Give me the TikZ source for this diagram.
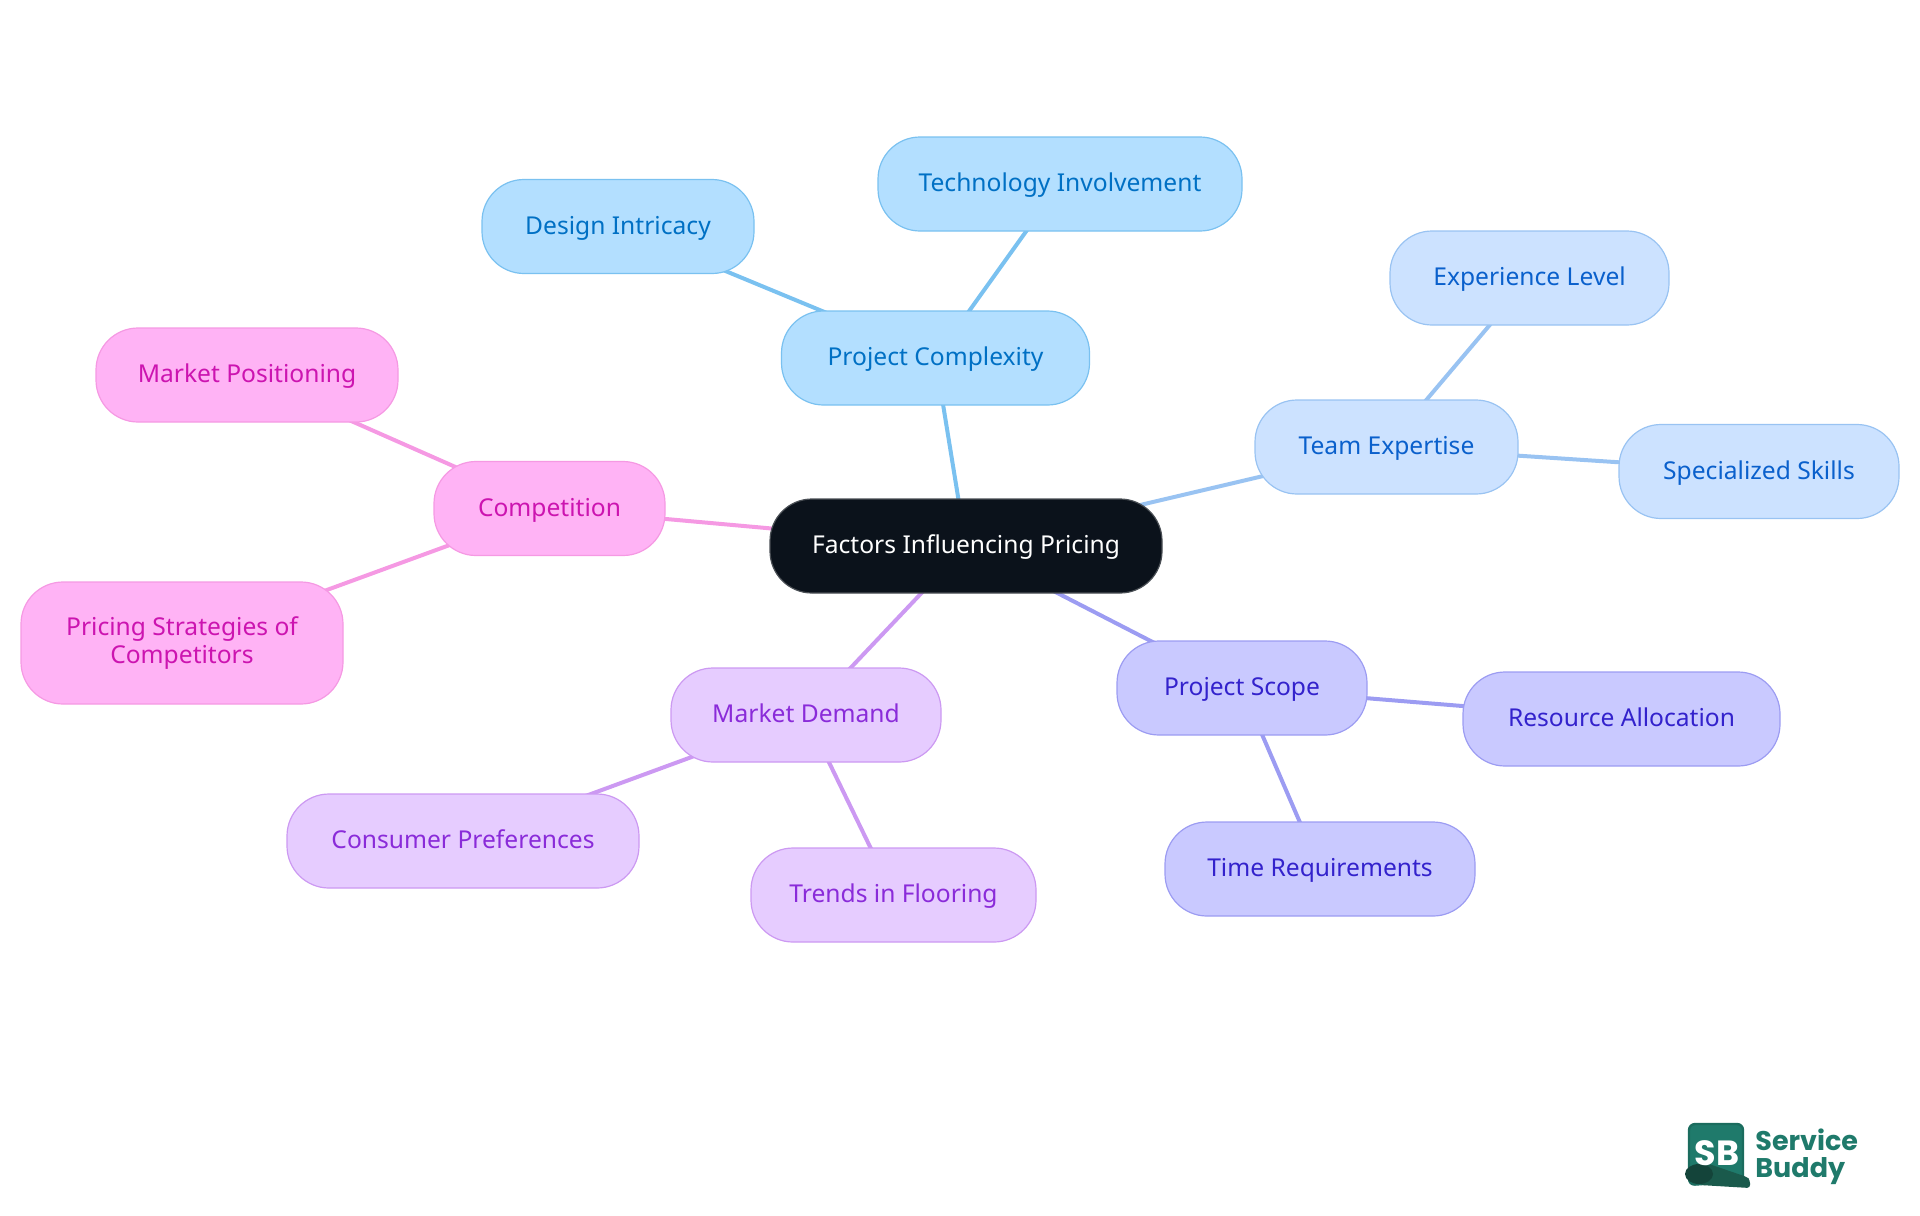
\documentclass[tikz,border=0pt]{standalone}
\usepackage{fontspec}
\setmainfont{Noto Sans}
\newfontfamily\logofont{Poppins}
\usepackage{tikz}
\usetikzlibrary{backgrounds}
\definecolor{rootfill}{HTML}{0B121B}
\definecolor{rootline}{HTML}{4A4F55}
\definecolor{cplxfill}{HTML}{B3DFFF}
\definecolor{cplxline}{HTML}{7AC1F0}
\definecolor{cplxtext}{HTML}{0070C4}
\definecolor{teamfill}{HTML}{CCE2FF}
\definecolor{teamline}{HTML}{99C3F2}
\definecolor{teamtext}{HTML}{0A60CC}
\definecolor{scopefill}{HTML}{C9C9FF}
\definecolor{scopeline}{HTML}{9C9CF2}
\definecolor{scopetext}{HTML}{3322CC}
\definecolor{demandfill}{HTML}{E6CCFF}
\definecolor{demandline}{HTML}{CC99F2}
\definecolor{demandtext}{HTML}{8A2BD9}
\definecolor{compfill}{HTML}{FFB3F5}
\definecolor{compline}{HTML}{F599E3}
\definecolor{comptext}{HTML}{CC14B0}
\definecolor{sbgreen}{HTML}{1F7A6B}
\definecolor{sbedge}{HTML}{1B6C5E}
\definecolor{sbdark}{HTML}{1A5A4C}
\definecolor{sbroll}{HTML}{14443A}
\tikzset{
  mm/.style={rounded corners=21pt, line width=0.6pt, align=center, inner sep=0pt, text height=10.5pt, text depth=3pt, font=\fontsize{12.3}{14}\selectfont},
  rootnode/.style={mm, fill=rootfill, draw=rootline, text=white},
  cplx/.style={mm, fill=cplxfill, draw=cplxline, text=cplxtext},
  team/.style={mm, fill=teamfill, draw=teamline, text=teamtext},
  scopenode/.style={mm, fill=scopefill, draw=scopeline, text=scopetext},
  demand/.style={mm, fill=demandfill, draw=demandline, text=demandtext},
  comp/.style={mm, fill=compfill, draw=compline, text=comptext},
  branch/.style={line width=2pt}
}
\begin{document}
\begin{tikzpicture}[x=0.5pt, y=-0.5pt]
  \useasboundingbox (0,0) rectangle (1920,1215);

  \node[rootnode, minimum width=196pt, minimum height=47pt] (factors) at (966,546) {Factors Influencing Pricing};

  \node[cplx, minimum width=154pt, minimum height=47pt] (complexity) at (935.5,358) {Project Complexity};
  \node[cplx, minimum width=136pt, minimum height=47pt] (intricacy) at (618,226.5) {Design Intricacy};
  \node[cplx, minimum width=182pt, minimum height=47pt] (technology) at (1060,184) {Technology Involvement};

  \node[team, minimum width=131.5pt, minimum height=47pt] (expertise) at (1386.5,447) {Team Expertise};
  \node[team, minimum width=139.5pt, minimum height=47pt] (experience) at (1529.5,278) {Experience Level};
  \node[team, minimum width=140pt, minimum height=47pt] (skills) at (1759,471.5) {Specialized Skills};

  \node[scopenode, minimum width=125pt, minimum height=47pt] (scope) at (1242,688) {Project Scope};
  \node[scopenode, minimum width=158.5pt, minimum height=47pt] (resource) at (1621.5,719) {Resource Allocation};
  \node[scopenode, minimum width=155pt, minimum height=47pt] (timereq) at (1320,869) {Time Requirements};

  \node[demand, minimum width=135pt, minimum height=47pt] (demand) at (806,715) {Market Demand};
  \node[demand, minimum width=176pt, minimum height=47pt] (consumer) at (463,841) {Consumer Preferences};
  \node[demand, minimum width=142.5pt, minimum height=47pt] (trends) at (893.5,895) {Trends in Flooring};

  \node[comp, minimum width=115.5pt, minimum height=47pt] (competition) at (549.5,508.5) {Competition};
  \node[comp, minimum width=151pt, minimum height=47pt] (positioning) at (247,375) {Market Positioning};
  \node[comp, minimum width=161pt, minimum height=61pt, text height=23pt] (strategies) at (182,643) {Pricing Strategies of\\Competitors};

  \begin{pgfonlayer}{background}
    \draw[branch, cplxline] (factors.center) -- (complexity.center);
    \draw[branch, cplxline] (complexity.center) -- (intricacy.center);
    \draw[branch, cplxline] (complexity.center) -- (technology.center);
    \draw[branch, teamline] (factors.center) -- (expertise.center);
    \draw[branch, teamline] (expertise.center) -- (experience.center);
    \draw[branch, teamline] (expertise.center) -- (skills.center);
    \draw[branch, scopeline] (factors.center) -- (scope.center);
    \draw[branch, scopeline] (scope.center) -- (resource.center);
    \draw[branch, scopeline] (scope.center) -- (timereq.center);
    \draw[branch, demandline] (factors.center) -- (demand.center);
    \draw[branch, demandline] (demand.center) -- (consumer.center);
    \draw[branch, demandline] (demand.center) -- (trends.center);
    \draw[branch, compline] (factors.center) -- (competition.center);
    \draw[branch, compline] (competition.center) -- (positioning.center);
    \draw[branch, compline] (competition.center) -- (strategies.center);
  \end{pgfonlayer}

  % logo
  \fill[sbgreen, draw=sbedge, line width=1.2pt, rounded corners=3pt] (1689,1185) -- (1689,1124) -- (1743,1124) -- (1743,1181) -- cycle;
  \fill[sbdark, rounded corners=1.5pt] (1706,1163) -- (1747,1177) -- (1750,1180) -- (1750,1188) -- (1700,1185) -- cycle;
  \fill[sbroll] (1699,1174) ellipse (14 and 10);
  \node[text=white, inner sep=0pt, font=\logofont\fontsize{17.5}{19}\bfseries\selectfont] (sb) at (1717,1153) {SB};
  \node[text=sbgreen, inner sep=0pt, align=left, anchor=west, font=\logofont\fontsize{13.5}{13.5}\bfseries\selectfont] (buddy) at (1755,1157) {Service\\Buddy};
\end{tikzpicture}
\end{document}
